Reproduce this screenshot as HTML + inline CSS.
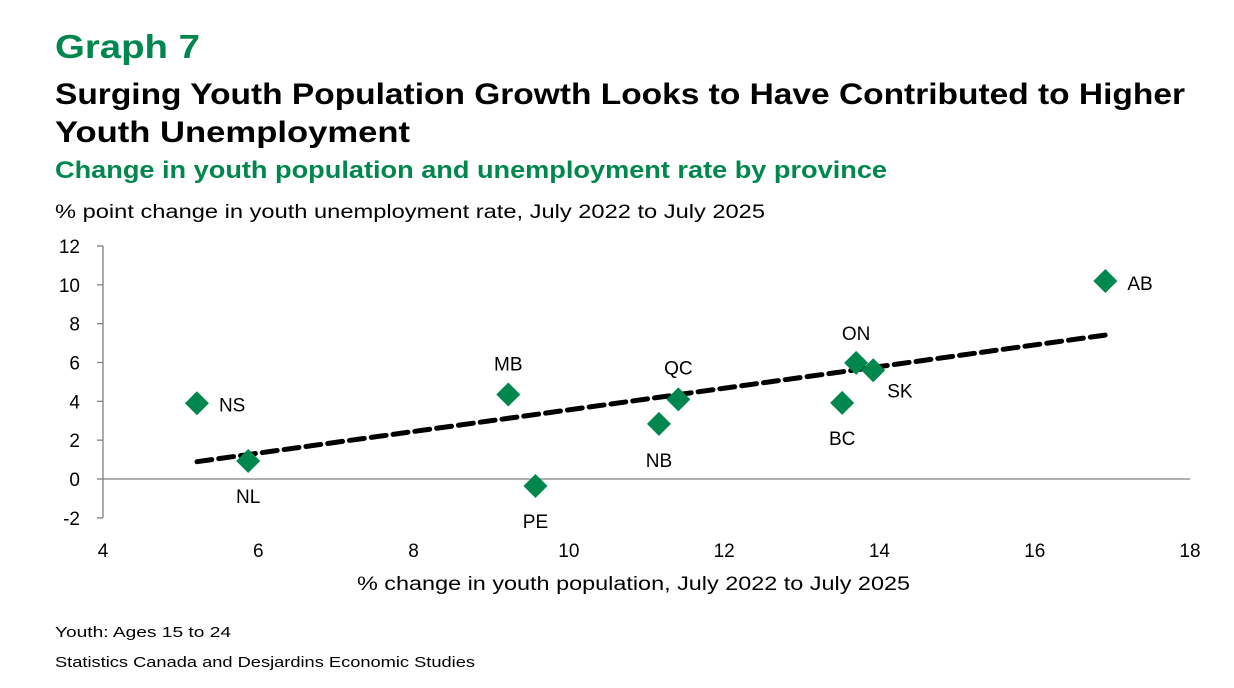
<!DOCTYPE html>
<html><head><meta charset="utf-8"><style>
body{margin:0;background:#fff}
svg{display:block;font-family:"Liberation Sans",sans-serif}
</style></head><body>
<svg id="c" width="1234" height="688" viewBox="0 0 1234 688">
<text x="55" y="58" font-size="33" font-weight="bold" fill="#00874e" textLength="145" lengthAdjust="spacingAndGlyphs">Graph 7</text>
<text x="55" y="104" font-size="30" font-weight="bold" fill="#000" textLength="1130" lengthAdjust="spacingAndGlyphs">Surging Youth Population Growth Looks to Have Contributed to Higher</text>
<text x="55" y="142" font-size="30" font-weight="bold" fill="#000" textLength="355" lengthAdjust="spacingAndGlyphs">Youth Unemployment</text>
<text x="55" y="178" font-size="24" font-weight="bold" fill="#00874e" textLength="832" lengthAdjust="spacingAndGlyphs">Change in youth population and unemployment rate by province</text>
<text x="55" y="218" font-size="19" fill="#000" textLength="710" lengthAdjust="spacingAndGlyphs">% point change in youth unemployment rate, July 2022 to July 2025</text>
<text x="357" y="590" font-size="19" fill="#000" textLength="553" lengthAdjust="spacingAndGlyphs">% change in youth population, July 2022 to July 2025</text>
<text x="55" y="637" font-size="15" fill="#000" textLength="176" lengthAdjust="spacingAndGlyphs">Youth: Ages 15 to 24</text>
<text x="55" y="667" font-size="15" fill="#000" textLength="420" lengthAdjust="spacingAndGlyphs">Statistics Canada and Desjardins Economic Studies</text>
<g id="plot"></g>
</svg>
<script>
const labels=["NS","NL","MB","PE","NB","QC","BC","ON","SK","AB"];
const popChange=[5.21,5.87,9.22,9.57,11.16,11.41,13.52,13.70,13.92,16.91];
const unempChange=[3.9,0.93,4.35,-0.36,2.84,4.1,3.92,5.98,5.6,10.2];
const xTicks=[4,6,8,10,12,14,16,18];
const yTicks=[-2,0,2,4,6,8,10,12];
const NS="http://www.w3.org/2000/svg";
const g=document.getElementById('plot');
const X=v=>103+(v-4)*(1190-103)/14;
const Y=v=>479-v*(479-246)/12;
function el(t,a,txt){const e=document.createElementNS(NS,t);for(const k in a)e.setAttribute(k,a[k]);if(txt!==undefined)e.textContent=txt;g.appendChild(e);return e;}
let e=el('line',{x1:103,y1:Y(12),x2:103,y2:Y(-2),stroke:'#808080','stroke-width':1.3});


e=el('line',{x1:103,y1:Y(0),x2:1190,y2:Y(0),stroke:'#808080','stroke-width':1.3});


yTicks.forEach(t=>{
 let l=el('line',{x1:97,y1:Y(t),x2:103,y2:Y(t),stroke:'#808080','stroke-width':1.3});
 
 
 let tx=el('text',{x:80,y:Y(t)+7,'font-size':19,'text-anchor':'end'},String(t));
 
 
});
xTicks.forEach(t=>{
 let tx=el('text',{x:X(t),y:557,'font-size':19,'text-anchor':'middle'},String(t));
 
 
});
const n=popChange.length;
const mx=popChange.reduce((a,b)=>a+b)/n, my=unempChange.reduce((a,b)=>a+b)/n;
let sxy=0,sxx=0;for(let i=0;i<n;i++){sxy+=(popChange[i]-mx)*(unempChange[i]-my);sxx+=(popChange[i]-mx)**2;}
const b=sxy/sxx,a=my-b*mx;
const x0=Math.min(...popChange),x1=Math.max(...popChange);
e=el('line',{x1:X(x0),y1:Y(a+b*x0),x2:X(x1),y2:Y(a+b*x1),stroke:'#000','stroke-width':5,'stroke-dasharray':'15 7','stroke-linecap':'round'});


const off={NS:[22,8,'start'],NL:[0,42,'middle'],MB:[0,-24,'middle'],PE:[0,42,'middle'],NB:[0,43,'middle'],QC:[0,-25,'middle'],BC:[0,42,'middle'],ON:[0,-23,'middle'],SK:[14,27,'start'],AB:[22,9,'start']};
labels.forEach((lb,i)=>{
 const cx=X(popChange[i]),cy=Y(unempChange[i]);
 const r=12;
 let p=el('polygon',{points:`${cx},${cy-r} ${cx+r},${cy} ${cx},${cy+r} ${cx-r},${cy}`,fill:'#00874e'});
 
 
 const o=off[lb];
 let t=el('text',{x:cx+o[0],y:cy+o[1],'font-size':19,'text-anchor':o[2]},lb);
 
 
});
</script>
</body></html>
